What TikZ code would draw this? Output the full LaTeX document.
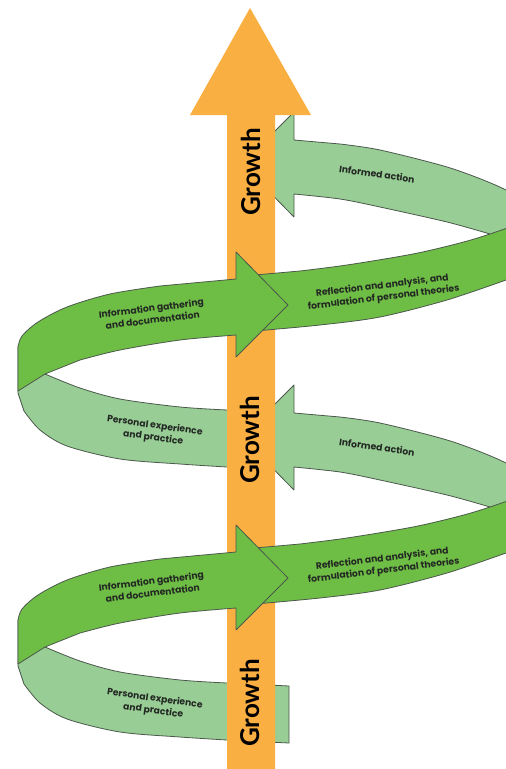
\documentclass[tikz,border=0pt]{standalone}
\usepackage{fontspec}
\setmainfont{Poppins}
\newfontfamily\growthfont{Lato}
\definecolor{shaft}{RGB}{250,175,66}
\definecolor{leafdark}{RGB}{110,190,70}
\definecolor{leaflight}{RGB}{152,206,150}
\definecolor{edge}{RGB}{75,88,75}
\definecolor{ink}{RGB}{35,40,35}

\begin{document}
\begin{tikzpicture}[x=1pt, y=-1pt,
    band/.style={draw=edge, line width=0.8pt, line join=round},
    front/.style={band, fill=leafdark},
    back/.style={band, fill=leaflight},
    lbl/.style={font=\bfseries\fontsize{9.2}{12}\selectfont, text=ink, align=center, inner sep=0pt},
    growth/.style={font=\growthfont\bfseries\fontsize{26}{26}\selectfont, rotate=90, inner sep=0pt}]
  \useasboundingbox (0,0) rectangle (506,769);
  \clip (0,0) rectangle (506,769);
  \fill[white] (0,0) rectangle (506,769);

  % back of the ribbon
  \foreach \s in {0,273} {
    \begin{scope}[yshift=\s pt]
      \draw[back] (289,686) -- plot[smooth] coordinates {(227,683) (180,680) (120,672) (80,661) (45,647)} -- (18,620) -- (18,666)
        -- plot[smooth] coordinates {(24,684) (40,703) (67,719) (120,732) (180,737) (227,740)} -- (289,743) -- cycle;
    \end{scope}
  }
  \foreach \s in {0,273} {
    \begin{scope}[yshift=\s pt]
      \draw[back] (242,437) -- (294,385) -- (294,413) -- plot[smooth] coordinates {(340,417) (380,423) (447,440) (493,457) (530,475)}
        -- (530,520) -- plot[smooth] coordinates {(490,507) (447,495) (380,480) (340,472) (294,467)} -- (294,490) -- cycle;
    \end{scope}
  }

  % growth arrow
  \fill[shaft] (227,769) -- (227,115) -- (190,115) -- (250,8) -- (311,115) -- (275,115) -- (275,769) -- cycle;
  \node[growth] (grow1) at (251,172) {Growth};
  \node[growth] (grow2) at (250,440) {Growth};
  \node[growth] (grow3) at (250,703) {Growth};

  % front of the ribbon
  \foreach \s/\k in {0/1,273/2} {
    \begin{scope}[yshift=\s pt]
      \draw[front] (255,548) -- plot[smooth] coordinates {(300,544) (347,538) (413,527) (460,516) (490,507) (530,493)}
        -- (530,545) -- plot[smooth] coordinates {(506,553) (447,573) (380,590) (320,598) (255,604)} -- cycle;
      \draw[front] (288,578) -- (236,525) -- (236,552) -- plot[smooth] coordinates {(160,559) (110,567) (67,580) (38,595) (22,609) (18,620)}
        -- (18,664) -- (45,647) -- plot[smooth] coordinates {(80,633) (120,623) (180,613) (236,608)} -- (236,630) -- cycle;
      \node[lbl, rotate=-8] (pers\k) at (154,705) {Personal experience\\and practice};
      \node[lbl, rotate=7] (info\k) at (152,587) {Information gathering\\and documentation};
      \node[lbl, rotate=7] (refl\k) at (383,565) {Reflection and analysis, and\\formulation of personal theories};
      \node[lbl, rotate=-8] (act\k) at (377,447) {Informed action};
    \end{scope}
  }
\end{tikzpicture}
\end{document}
